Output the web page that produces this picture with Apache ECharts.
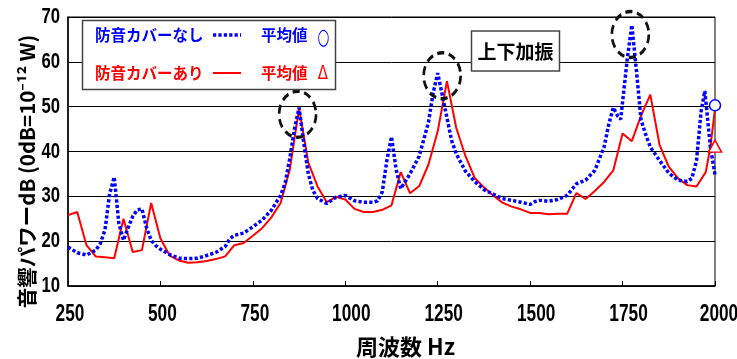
<!DOCTYPE html>
<html>
<head>
<meta charset="utf-8">
<script src="https://cdn.jsdelivr.net/npm/echarts@6/dist/echarts.min.js"></script>
<style>
html,body{margin:0;padding:0;background:#fff;}
#chart{width:737px;height:359px;}
</style>
</head>
<body>
<div id="chart"></div>
<script>
// ---- data ----
const freqBlue = [250,275,300,325,337.5,350,362.5,375,387.5,400,412.5,425,437.5,450,462.5,475,487.5,500,525,550,575,600,625,650,675,687.5,700,725,750,775,800,825,837.5,850,862.5,875,887.5,900,912.5,925,950,975,1000,1025,1050,1075,1087.5,1100,1112.5,1125,1137.5,1150,1175,1200,1225,1237.5,1250,1262.5,1275,1287.5,1300,1325,1350,1375,1400,1425,1450,1475,1500,1512.5,1525,1550,1575,1600,1625,1650,1675,1700,1712.5,1725,1737.5,1745,1750,1762.5,1775,1787.5,1800,1812.5,1825,1850,1875,1900,1925,1937.5,1950,1962.5,1972.5,1987.5,2000];
const powerBlue = [18.7,17.4,16.9,18,19.5,22.5,30.5,34.3,24,20.2,23,25.5,27,27.2,23,20.2,19,18.2,17,16.2,16.1,16.2,16.8,17.5,18.8,20.5,21.3,21.8,23.2,24.7,26.9,30.2,33,38.5,45,49.8,42,35,31.3,29.5,28.4,29.8,30.2,29,28.7,28.7,29,31,38,43.3,36,31.7,35,39,46.5,53,57.5,52.5,47.5,42.5,39.5,35.6,33.3,31.5,30.5,29.5,29.1,28.7,28.2,28.8,29.1,28.9,29.3,30.2,32.8,33.6,35.8,41,46,49.8,47.8,47.2,51,60.5,68.2,58,47,43.8,41,38,35.2,33.6,33.3,34,38,49,53.5,41,34.8];

const freqRed = [250,275,300,325,350,375,400,425,450,475,500,525,550,575,600,625,650,675,700,725,750,775,800,825,850,875,900,925,950,975,1000,1025,1050,1075,1100,1125,1150,1175,1200,1225,1250,1275,1300,1325,1350,1375,1400,1425,1450,1475,1500,1525,1550,1575,1600,1625,1650,1675,1700,1725,1750,1775,1800,1825,1850,1875,1900,1925,1950,1975,1987.5,2000];
const powerRed = [25.8,26.5,19.1,16.6,16.4,16.2,25,17.6,18,28.5,20.6,16.8,15.7,15.2,15.3,15.6,16,16.6,19.1,19.6,21.2,22.9,25.3,28.5,36,49.6,37.5,32.2,28.7,29.9,29.3,27.2,26.5,26.5,27,28,35.4,30.7,32.3,37.1,44.5,55.7,45.3,39,34.1,32,30.2,28.6,27.7,27.1,26.3,26.3,26,26.1,26.1,30.7,29.4,31.2,33.2,35.8,44,42.3,48,52.7,41.5,36.6,34,32.5,32.2,35.4,41,49.5];

const avgFreq = 2000;
const avgBlue = 50.3;
const avgRed = 41.2;

// dashed ellipses around the resonance peaks [Hz, dB]
const peakCircles = [[871,48.3],[1262,56.9],[1771,66.1]];

const xTicks = [250,500,750,1000,1250,1500,1750,2000];
const yTicks = [10,20,30,40,50,60,70];

const labelBlue = '防音カバーなし';
const labelRed = '防音カバーあり';
const labelAvg = '平均値';
const boxLabel = '上下加振';
const xName = '周波数 Hz';
const yName = '音響パワーdB (0dB=10⁻¹² W)';

// ---- chart ----
const BLUE = '#0000ff', RED = '#ff0000';
const cjk = "'Noto Sans CJK JP','Noto Sans',sans-serif";
const chart = echarts.init(document.getElementById('chart'), null, {renderer:'canvas'});

const option = {
  animation: false,
  grid: {left: 68, right: 22, top: 17, bottom: 73, show: true, borderColor: '#000', borderWidth: 1,
         backgroundColor: 'transparent', containLabel: false, outerBoundsMode: 'none'},
  xAxis: {
    type: 'value', min: xTicks[0], max: xTicks[xTicks.length-1], interval: 250,
    name: xName, nameLocation: 'middle', nameGap: 50,
    nameTextStyle: {fontFamily: cjk, fontWeight: 'bold', fontSize: 22, color: '#000', padding: [0,0,0,28]},
    axisLine: {show: true, lineStyle: {color: '#000', width: 1.5}},
    axisTick: {show: true, inside: true, length: 5, lineStyle: {color: '#000', width: 1}},
    axisLabel: {show: false},
    splitLine: {show: false}
  },
  yAxis: {
    type: 'value', min: yTicks[0], max: yTicks[yTicks.length-1], interval: 10,
    name: yName, nameLocation: 'middle', nameGap: 31, nameRotate: 90,
    nameTextStyle: {fontFamily: cjk, fontWeight: 'bold', fontSize: 20.5, color: '#000', padding: [0,40,0,0]},
    axisLine: {show: true, lineStyle: {color: '#000', width: 1.5}},
    axisTick: {show: false},
    axisLabel: {show: false},
    splitLine: {show: true, lineStyle: {color: '#000', width: 1}}
  },
  series: [
    {
      type: 'line', name: labelRed, data: freqRed.map((f,i)=>[f, powerRed[i]]),
      showSymbol: false, symbol: 'none', lineStyle: {color: RED, width: 2}, z: 3, silent: true
    },
    {
      type: 'line', name: labelBlue, data: freqBlue.map((f,i)=>[f, powerBlue[i]]),
      showSymbol: false, symbol: 'none', lineStyle: {color: BLUE, width: 3.5, type: [3.2, 2.2], cap: 'butt'}, z: 4, silent: true
    },
    {
      type: 'scatter', data: [[avgFreq, avgRed]], symbol: 'triangle', symbolSize: [13, 12], clip: false,
      itemStyle: {color: '#fff', borderColor: RED, borderWidth: 1.5, opacity: 1}, z: 6, silent: true
    },
    {
      type: 'scatter', data: [[avgFreq, avgBlue]], symbol: 'circle', symbolSize: 11, clip: false,
      itemStyle: {color: '#fff', borderColor: BLUE, borderWidth: 1.5, opacity: 1}, z: 6, silent: true
    },
    {
      type: 'scatter', data: peakCircles, symbol: 'circle', symbolSize: [37, 46], clip: false,
      itemStyle: {color: 'rgba(0,0,0,0)', borderColor: '#111', borderWidth: 3, borderType: [8, 5], opacity: 1}, z: 7, silent: true
    }
  ]
};
chart.setOption(option);

// tick labels: condensed bold numerals placed through the axes' own scales
const numFont = "bold 24px 'Liberation Sans', Arial, sans-serif";
const numFontY = "bold 22px 'Liberation Sans', Arial, sans-serif";
const xAxisPixelY = chart.convertToPixel({yAxisIndex: 0}, yTicks[0]);
const yAxisPixelX = chart.convertToPixel({xAxisIndex: 0}, xTicks[0]);
const tickTexts = [];
xTicks.forEach(v => {
  const s = String(v);
  const nudge = s.length === 4 ? (s[0] === '1' ? 6 : 4) : 2;
  tickTexts.push({type: 'text', x: chart.convertToPixel({xAxisIndex: 0}, v) + nudge, y: xAxisPixelY + 28, scaleX: 0.72,
    style: {text: s, fill: '#000', font: numFont, textAlign: 'center', textVerticalAlign: 'middle'}, z: 12});
});
yTicks.forEach(v => {
  tickTexts.push({type: 'text', x: yAxisPixelX - 8, y: chart.convertToPixel({yAxisIndex: 0}, v), scaleX: 0.76,
    style: {text: String(v), fill: '#000', font: numFontY, textAlign: 'right', textVerticalAlign: 'middle'}, z: 12});
});

const legendFont = "bold 15.5px 'Noto Sans CJK JP'";
chart.setOption({
  graphic: tickTexts.concat([
    {type: 'rect', shape: {x: 82.5, y: 20.5, width: 253, height: 69}, style: {fill: '#fff', stroke: '#444', lineWidth: 1.5}, z: 10},
    {type: 'text', x: 95, y: 35, style: {text: labelBlue, fill: BLUE, font: legendFont, textVerticalAlign: 'middle'}, z: 11},
    {type: 'line', shape: {x1: 213, y1: 35, x2: 241, y2: 35}, style: {stroke: BLUE, lineWidth: 3.5, lineDash: [3.2, 2.2]}, z: 11},
    {type: 'text', x: 261, y: 35, style: {text: labelAvg, fill: BLUE, font: legendFont, textVerticalAlign: 'middle'}, z: 11},
    {type: 'text', x: 323.5, y: 38.5, scaleX: 0.62, style: {text: '○', fill: BLUE, font: "22px 'DejaVu Sans'", textAlign: 'center', textVerticalAlign: 'middle'}, z: 11},
    {type: 'text', x: 95, y: 73, style: {text: labelRed, fill: RED, font: legendFont, textVerticalAlign: 'middle'}, z: 11},
    {type: 'line', shape: {x1: 213, y1: 73, x2: 241, y2: 73}, style: {stroke: RED, lineWidth: 2}, z: 11},
    {type: 'text', x: 261, y: 73, style: {text: labelAvg, fill: RED, font: legendFont, textVerticalAlign: 'middle'}, z: 11},
    {type: 'text', x: 323, y: 74, scaleX: 0.75, style: {text: 'Δ', fill: RED, font: "20px 'DejaVu Sans'", textAlign: 'center', textVerticalAlign: 'middle'}, z: 11},
    {type: 'rect', shape: {x: 471.5, y: 31, width: 88, height: 40}, style: {fill: '#fff', stroke: '#444', lineWidth: 1.5}, z: 10},
    {type: 'text', x: 515.5, y: 52, style: {text: boxLabel, fill: '#000', font: "bold 19px 'Noto Sans CJK JP'", textAlign: 'center', textVerticalAlign: 'middle'}, z: 11}
  ])
});
</script>
</body>
</html>
